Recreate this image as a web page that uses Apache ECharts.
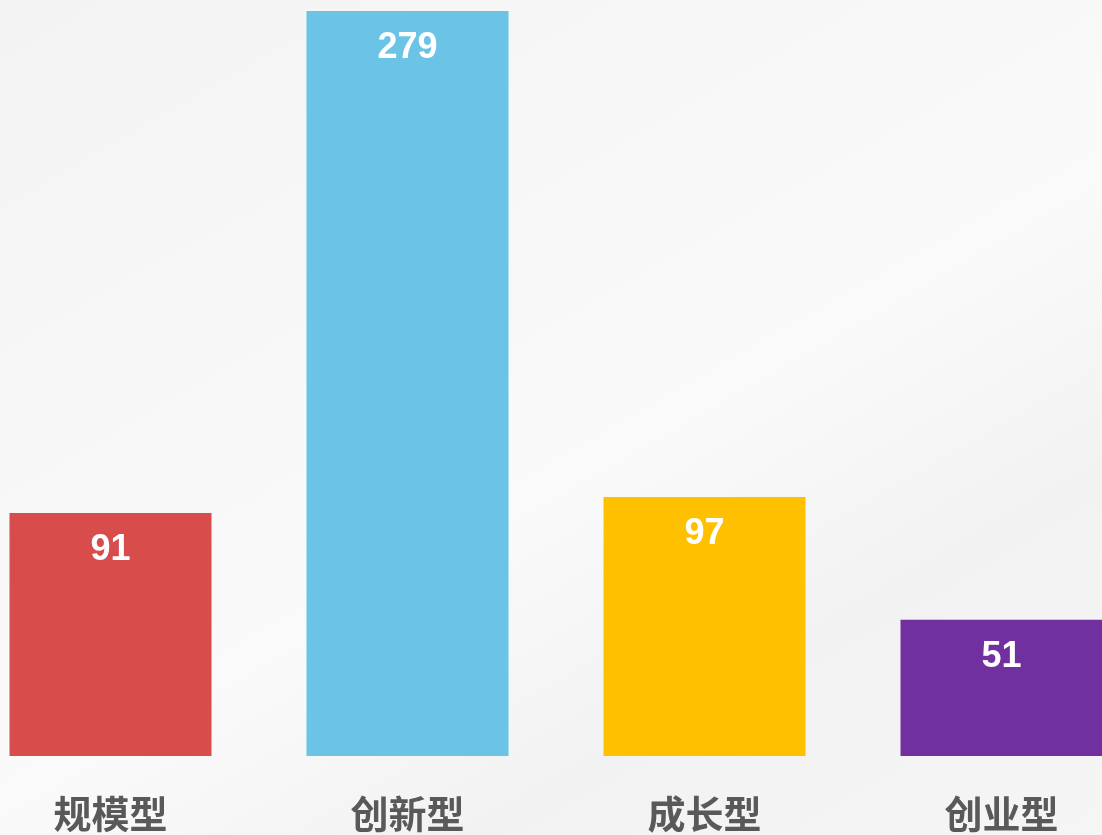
<!DOCTYPE html>
<html>
<head>
<meta charset="utf-8">
<script src="https://cdn.jsdelivr.net/npm/echarts@6/dist/echarts.min.js"></script>
<style>
  html, body { margin: 0; padding: 0; }
  body {
    width: 1102px; height: 835px; overflow: hidden;
    background: linear-gradient(150deg, #f3f3f3 0%, #f8f8f8 40%, #fafafa 55%, #f2f2f2 75%, #f5f5f5 100%);
  }
  #chart { width: 1102px; height: 835px; }
</style>
</head>
<body>
<div id="chart"></div>
<script>
// data
const categories = ['规模型', '创新型', '成长型', '创业型'];
const values = [91, 279, 97, 51];
const barColors = ['#d84c4c', '#6bc4e6', '#ffc000', '#7030a0'];

const chart = echarts.init(document.getElementById('chart'));

chart.setOption({
  animation: false,
  backgroundColor: 'transparent',
  // grid sticks out past both edges so the outer bars sit flush like the original
  grid: { left: -38, width: 1188, top: 11, bottom: 79, outerBoundsMode: 'none', containLabel: false },
  xAxis: {
    type: 'category',
    data: categories,
    axisLine: { show: false },
    axisTick: { show: false },
    axisLabel: {
      color: '#595959',
      fontSize: 38,
      fontWeight: 'bold',
      fontFamily: '"Noto Sans CJK SC", sans-serif',
      margin: 39
    }
  },
  yAxis: {
    type: 'value',
    min: 0,
    max: 279,
    show: false,
    splitLine: { show: false }
  },
  series: [{
    type: 'bar',
    barWidth: 202,
    data: values.map((v, i) => ({ value: v, itemStyle: { color: barColors[i] } })),
    label: {
      show: true,
      position: 'insideTop',
      distance: 19,
      color: '#ffffff',
      fontSize: 36,
      fontWeight: 'bold',
      fontFamily: '"Liberation Sans", Arial, sans-serif'
    }
  }]
});
</script>
</body>
</html>
